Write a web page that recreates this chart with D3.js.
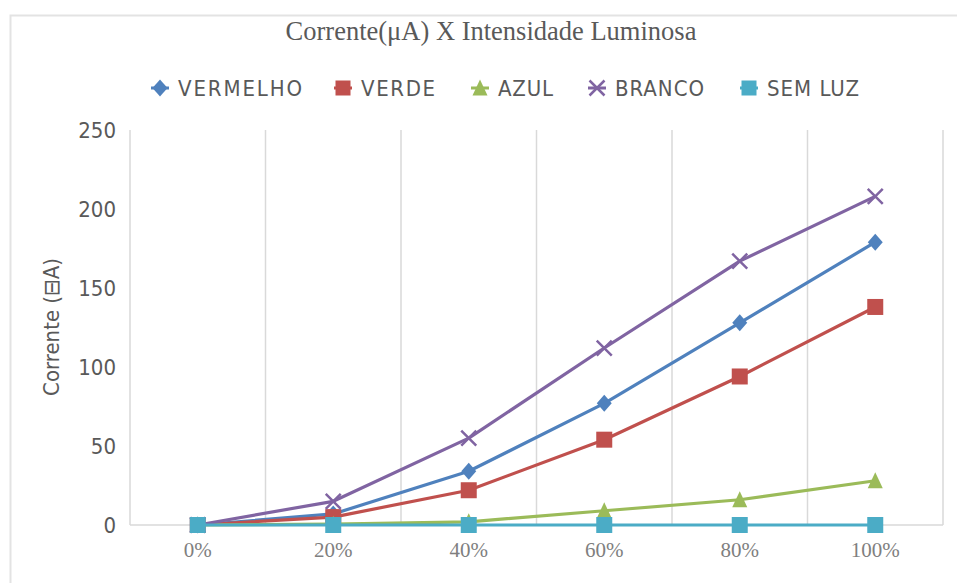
<!DOCTYPE html>
<html>
<head>
<meta charset="utf-8">
<script src="https://cdn.jsdelivr.net/npm/d3@7"></script>
<style>
  body { margin: 0; background: #fff; }
  svg { display: block; }
</style>
</head>
<body>
<div id="chart"></div>
<script>
// data
const categories = ["0%", "20%", "40%", "60%", "80%", "100%"];
const seriesNames = ["VERMELHO", "VERDE", "AZUL", "BRANCO", "SEM LUZ"];
const vermelho = [0, 7, 34, 77, 128, 179];
const verde = [0, 5, 22, 54, 94, 138];
const azul = [0, 0.5, 2, 9, 16, 28];
const branco = [0, 15, 55, 112, 167, 208];
const semLuz = [0, 0, 0, 0, 0, 0];
const yTicks = [0, 50, 100, 150, 200, 250];

const colors = ["#4F81BD", "#C0504D", "#9BBB59", "#8064A2", "#4BACC6"];
const markers = ["diamond", "square", "triangle", "cross", "square"];
const allValues = [vermelho, verde, azul, branco, semLuz];

const width = 957, height = 583;
const plot = { left: 130, right: 943, top: 130, bottom: 525 };
const condensed = "'DejaVu Sans Condensed', 'DejaVu Sans', sans-serif";
const serif = "'Liberation Serif', 'DejaVu Serif', serif";

const svg = d3.select("#chart")
  .append("svg")
  .attr("width", width)
  .attr("height", height);

// chart border
svg.append("rect")
  .attr("x", 10.5)
  .attr("y", 15.5)
  .attr("width", 980)
  .attr("height", 600)
  .style("fill", "none")
  .style("stroke", "#e3e3e3")
  .style("stroke-width", 2);

const x = d3.scaleBand().domain(categories).range([plot.left, plot.right]);
const y = d3.scaleLinear().domain([0, 250]).range([plot.bottom, plot.top]);

// vertical gridlines at category boundaries
svg.append("g")
  .selectAll("line")
  .data(categories)
  .join("line")
  .attr("x1", d => x(d) + x.bandwidth())
  .attr("x2", d => x(d) + x.bandwidth())
  .attr("y1", plot.top)
  .attr("y2", plot.bottom)
  .style("stroke", "#d9d9d9")
  .style("stroke-width", 1.5);

// y axis line
svg.append("line")
  .attr("x1", plot.left).attr("x2", plot.left)
  .attr("y1", plot.top).attr("y2", plot.bottom)
  .style("stroke", "#d9d9d9")
  .style("stroke-width", 1.5);

// x axis line
svg.append("line")
  .attr("x1", plot.left).attr("x2", plot.right)
  .attr("y1", plot.bottom).attr("y2", plot.bottom)
  .style("stroke", "#d9d9d9")
  .style("stroke-width", 1.5);

// y tick labels
const yAxis = svg.append("g")
  .attr("transform", `translate(${plot.left},0)`)
  .call(d3.axisLeft(y).tickValues(yTicks).tickSize(0).tickPadding(14));
yAxis.select(".domain").remove();
yAxis.selectAll("text")
  .style("font-family", condensed)
  .style("font-size", "22px")
  .style("fill", "#595959");

// x tick labels
const xAxis = svg.append("g")
  .attr("transform", `translate(0,${plot.bottom})`)
  .call(d3.axisBottom(x).tickSize(0).tickPadding(17));
xAxis.select(".domain").remove();
xAxis.selectAll("text")
  .style("font-family", serif)
  .style("font-size", "21px")
  .style("fill", "#7f7f7f");

// title
svg.append("text")
  .attr("x", 491)
  .attr("y", 40)
  .attr("text-anchor", "middle")
  .style("font-family", serif)
  .style("font-size", "26.5px")
  .style("fill", "#595959")
  .text("Corrente(\u03BCA) X Intensidade Luminosa");

// y axis title
svg.append("text")
  .attr("transform", "translate(59,327) rotate(-90)")
  .attr("text-anchor", "middle")
  .style("font-family", condensed)
  .style("font-size", "22px")
  .style("fill", "#595959")
  .text("Corrente (\u229FA)");

function drawMarker(g, type, color, size) {
  const s = size / 2;
  if (type === "diamond") {
    g.append("path")
      .attr("d", `M0,${-s - 1}L${s},0L0,${s + 1}L${-s},0Z`)
      .style("fill", color);
  } else if (type === "square") {
    g.append("rect")
      .attr("x", -s).attr("y", -s)
      .attr("width", size).attr("height", size)
      .style("fill", color);
  } else if (type === "triangle") {
    g.append("path")
      .attr("d", `M0,${-s - 1}L${s},${s}L${-s},${s}Z`)
      .style("fill", color);
  } else if (type === "cross") {
    g.append("path")
      .attr("d", `M${-s},${-s}L${s},${s}M${-s},${s}L${s},${-s}`)
      .style("stroke", color)
      .style("stroke-width", 2.5)
      .style("fill", "none");
  }
}

const line = d3.line()
  .x((d, i) => x(categories[i]) + x.bandwidth() / 2)
  .y(d => y(d));

// series lines and markers, drawn in legend order
allValues.forEach((vals, k) => {
  const g = svg.append("g");
  g.append("path")
    .attr("d", line(vals))
    .style("fill", "none")
    .style("stroke", colors[k])
    .style("stroke-width", 3.2)
    .style("stroke-linejoin", "round");
  vals.forEach((v, i) => {
    const m = g.append("g")
      .attr("transform", `translate(${x(categories[i]) + x.bandwidth() / 2},${y(v)})`);
    drawMarker(m, markers[k], colors[k], markers[k] === "square" ? 16 : 15);
  });
});

// legend
const legendX = [160, 343, 480, 597, 749];
seriesNames.forEach((name, k) => {
  const g = svg.append("g").attr("transform", `translate(${legendX[k]},88)`);
  drawMarker(g, markers[k], colors[k], 15);
  g.append("line")
    .attr("x1", -9).attr("x2", 9)
    .style("stroke", colors[k])
    .style("stroke-width", 3);
  g.append("text")
    .attr("x", 18)
    .attr("y", 8)
    .attr("textLength", [124, 74, 55, 89, 92][k])
    .style("font-family", condensed)
    .style("font-size", "22px")
    .style("fill", "#595959")
    .text(name);
});
</script>
</body>
</html>
